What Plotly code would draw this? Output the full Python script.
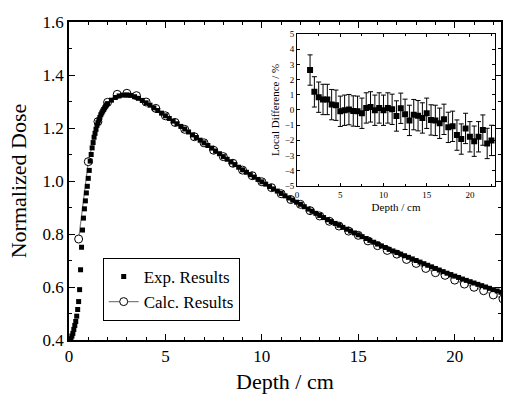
import plotly.graph_objects as go

# ---------------- data ----------------
# Experimental results (dense)
exp_depth_buildup = [0.05, 0.10, 0.15, 0.20, 0.25, 0.30, 0.35, 0.40, 0.45, 0.50,
                     0.55, 0.60, 0.65, 0.70, 0.75, 0.80, 0.85, 0.90, 0.95, 1.00,
                     1.05, 1.10, 1.15, 1.20, 1.25, 1.30, 1.35, 1.40, 1.45, 1.50,
                     1.55, 1.60, 1.65, 1.70, 1.75, 1.80, 1.85, 1.90, 1.95, 2.00]
exp_dose_buildup = [0.400, 0.405, 0.415, 0.425, 0.440, 0.455, 0.470, 0.490, 0.515, 0.545,
                    0.590, 0.665, 0.750, 0.815, 0.860, 0.895, 0.925, 0.955, 0.980, 1.010,
                    1.040, 1.075, 1.100, 1.125, 1.145, 1.165, 1.180, 1.195, 1.210, 1.220,
                    1.230, 1.240, 1.250, 1.257, 1.264, 1.270, 1.276, 1.282, 1.287, 1.292]
exp_depth_tail = [2.2, 2.4, 2.6, 2.8, 3.0, 3.2, 3.4, 3.6, 3.8, 4.0,
                  4.2, 4.4, 4.6, 4.8, 5.0, 5.2, 5.4, 5.6, 5.8, 6.0,
                  6.2, 6.4, 6.6, 6.8, 7.0, 7.2, 7.4, 7.6, 7.8, 8.0,
                  8.2, 8.4, 8.6, 8.8, 9.0, 9.2, 9.4, 9.6, 9.8, 10.0,
                  10.2, 10.4, 10.6, 10.8, 11.0, 11.2, 11.4, 11.6, 11.8, 12.0,
                  12.2, 12.4, 12.6, 12.8, 13.0, 13.2, 13.4, 13.6, 13.8, 14.0,
                  14.2, 14.4, 14.6, 14.8, 15.0, 15.2, 15.4, 15.6, 15.8, 16.0,
                  16.2, 16.4, 16.6, 16.8, 17.0, 17.2, 17.4, 17.6, 17.8, 18.0,
                  18.2, 18.4, 18.6, 18.8, 19.0, 19.2, 19.4, 19.6, 19.8, 20.0,
                  20.2, 20.4, 20.6, 20.8, 21.0, 21.2, 21.4, 21.6, 21.8, 22.0,
                  22.2, 22.4]
exp_dose_tail = [1.305, 1.315, 1.321, 1.324, 1.325, 1.323, 1.318, 1.312, 1.304, 1.295,
                 1.286, 1.276, 1.266, 1.256, 1.246, 1.236, 1.226, 1.216, 1.206, 1.196,
                 1.185, 1.174, 1.164, 1.154, 1.144, 1.134, 1.124, 1.113, 1.103, 1.092,
                 1.082, 1.072, 1.062, 1.052, 1.042, 1.033, 1.024, 1.015, 1.006, 0.997,
                 0.988, 0.979, 0.970, 0.962, 0.953, 0.944, 0.936, 0.928, 0.920, 0.912,
                 0.903, 0.894, 0.886, 0.878, 0.870, 0.862, 0.854, 0.847, 0.840, 0.833,
                 0.825, 0.818, 0.811, 0.804, 0.797, 0.790, 0.783, 0.776, 0.769, 0.762,
                 0.755, 0.749, 0.742, 0.736, 0.730, 0.724, 0.718, 0.712, 0.706, 0.700,
                 0.694, 0.688, 0.682, 0.676, 0.670, 0.664, 0.658, 0.652, 0.647, 0.641,
                 0.636, 0.630, 0.625, 0.620, 0.615, 0.610, 0.605, 0.600, 0.595, 0.590,
                 0.585, 0.580]

# Calculated results (every 0.5 cm)
calc_depth = [0.5, 1.0, 1.5, 2.0, 2.5, 3.0, 3.5, 4.0, 4.5, 5.0,
              5.5, 6.0, 6.5, 7.0, 7.5, 8.0, 8.5, 9.0, 9.5, 10.0,
              10.5, 11.0, 11.5, 12.0, 12.5, 13.0, 13.5, 14.0, 14.5, 15.0,
              15.5, 16.0, 16.5, 17.0, 17.5, 18.0, 18.5, 19.0, 19.5, 20.0,
              20.5, 21.0, 21.5, 22.0, 22.5]
calc_dose = [0.781, 1.073, 1.224, 1.297, 1.327, 1.331, 1.322, 1.298, 1.274, 1.246,
             1.221, 1.195, 1.167, 1.144, 1.116, 1.092, 1.067, 1.041, 1.020, 0.997,
             0.975, 0.952, 0.930, 0.912, 0.888, 0.868, 0.848, 0.830, 0.811, 0.795,
             0.774, 0.756, 0.738, 0.724, 0.704, 0.689, 0.670, 0.654, 0.644, 0.626,
             0.611, 0.599, 0.586, 0.570, 0.555]

# Inset: local difference (%)
diff_depth = [1.5, 2.0, 2.5, 3.0, 3.5, 4.0, 4.5, 5.0, 5.5, 6.0,
              6.5, 7.0, 7.5, 8.0, 8.5, 9.0, 9.5, 10.0, 10.5, 11.0,
              11.5, 12.0, 12.5, 13.0, 13.5, 14.0, 14.5, 15.0, 15.5, 16.0,
              16.5, 17.0, 17.5, 18.0, 18.5, 19.0, 19.5, 20.0, 20.5, 21.0,
              21.5, 22.0, 22.5]
diff_pct = [2.63, 1.19, 0.84, 0.69, 0.69, 0.35, 0.31, -0.09, -0.02, 0.02,
            -0.07, -0.09, -0.22, 0.13, 0.20, -0.02, 0.13, -0.02, 0.13, 0.04,
            -0.40, 0.11, -0.29, -0.69, -0.31, -0.38, -0.53, -0.22, -0.66, -0.69,
            -0.88, -0.62, -1.15, -1.08, -1.66, -1.92, -1.22, -1.77, -2.06, -1.77,
            -1.33, -2.21, -2.01]
diff_err = 1.0

exp_depth = exp_depth_buildup + exp_depth_tail
exp_dose = exp_dose_buildup + exp_dose_tail

FONT = '"Liberation Serif", "Times New Roman", Times, serif'

fig = go.Figure()

fig.add_trace(go.Scatter(
    x=calc_depth, y=calc_dose, mode="lines+markers", name="Calc. Results",
    line=dict(color="#808080", width=1.2),
    marker=dict(symbol="circle", size=8, color="white",
                line=dict(color="black", width=1)),
    xaxis="x", yaxis="y", legendrank=2,
))
fig.add_trace(go.Scatter(
    x=exp_depth, y=exp_dose, mode="markers", name="Exp. Results",
    marker=dict(symbol="square", size=5, color="black", line=dict(width=0)),
    xaxis="x", yaxis="y", legendrank=1,
))
fig.add_trace(go.Scatter(
    x=diff_depth, y=diff_pct, mode="markers", showlegend=False,
    marker=dict(symbol="square", size=6, color="black"),
    error_y=dict(type="constant", value=diff_err, color="black",
                 thickness=1, width=2.5),
    xaxis="x2", yaxis="y2",
))

axis_common = dict(showline=True, linecolor="black", mirror="ticks",
                   ticks="inside", showgrid=False, zeroline=False,
                   tickcolor="black")

fig.update_layout(
    width=505, height=397,
    margin=dict(l=69, r=2, t=22, b=57),
    paper_bgcolor="white", plot_bgcolor="white",
    font=dict(family=FONT, color="black"),
    xaxis=dict(**axis_common, domain=[0, 1], range=[0, 22.4],
               tick0=0, dtick=5, ticklen=6, tickwidth=1.2, linewidth=1.5,
               minor=dict(dtick=1, ticklen=3, ticks="inside", tickcolor="black"),
               tickfont=dict(size=17, family=FONT),
               title=dict(text="Depth / cm", font=dict(size=22, family=FONT),
                          standoff=8)),
    yaxis=dict(**axis_common, domain=[0, 1], range=[0.4, 1.6],
               tick0=0.4, dtick=0.2, tickformat=".1f", ticklen=6, tickwidth=1.2,
               linewidth=1.5,
               minor=dict(dtick=0.1, ticklen=3, ticks="inside", tickcolor="black"),
               tickfont=dict(size=17, family=FONT),
               title=dict(text="Normalized Dose", font=dict(size=22, family=FONT),
                          standoff=10)),
    xaxis2=dict(**axis_common, domain=[0.528, 0.986], anchor="y2",
                range=[0, 22.9], tick0=0, dtick=5, ticklen=3, linewidth=1,
                minor=dict(dtick=2.5, ticklen=2, ticks="inside", tickcolor="black"),
                tickfont=dict(size=9, family=FONT),
                title=dict(text="Depth / cm", font=dict(size=11, family=FONT),
                           standoff=4)),
    yaxis2=dict(**axis_common, domain=[0.485, 0.962], anchor="x2",
                range=[-5, 5], tick0=-5, dtick=1, ticklen=3, linewidth=1,
                tickfont=dict(size=9, family=FONT),
                title=dict(text="Local Difference / %",
                           font=dict(size=11, family=FONT), standoff=2)),
    legend=dict(x=0.078, y=0.258, xanchor="left", yanchor="top",
                bordercolor="black", borderwidth=1, bgcolor="white",
                font=dict(size=17, family=FONT), tracegroupgap=0,
                itemwidth=30),
    showlegend=True,
)

fig.write_html("out.html")
